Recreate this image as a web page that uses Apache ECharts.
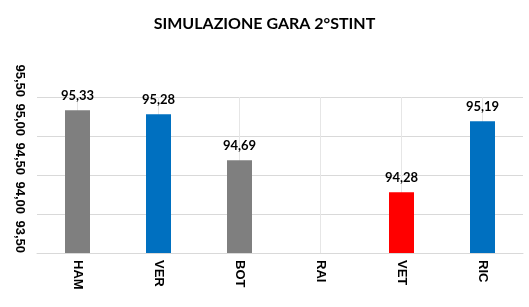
<!DOCTYPE html>
<html>
<head>
<meta charset="utf-8">
<script src="https://cdn.jsdelivr.net/npm/echarts@6/dist/echarts.min.js"></script>
<style>html,body{margin:0;padding:0;background:#fff;}#c{width:529px;height:307px;}</style>
</head>
<body>
<div id="c"></div>
<script>
const titleText = 'SIMULAZIONE GARA 2°STINT';
const drivers = ['HAM', 'VER', 'BOT', 'RAI', 'VET', 'RIC'];
const lapTimes = [95.33, 95.28, 94.69, null, 94.28, 95.19];
const barColors = ['#7f7f7f', '#0070c0', '#7f7f7f', '#7f7f7f', '#ff0000', '#0070c0'];
const yMin = 93.5, yMax = 95.5, yStep = 0.5;

const fmt = v => v.toFixed(2).replace('.', ',');

const chart = echarts.init(document.getElementById('c'));
chart.setOption({
  animation: false,
  title: {
    text: titleText, left: 'center', top: 11,
    textStyle: { fontFamily: 'Lato', fontWeight: 'bold', fontSize: 16, color: '#000' }
  },
  grid: { left: 37, right: 6, top: 97, bottom: 54, containLabel: false },
  xAxis: {
    type: 'category', data: drivers,
    axisLine: { show: true, lineStyle: { color: '#d9d9d9', width: 1 } },
    axisTick: { show: false },
    splitLine: { show: false },
    axisLabel: {
      rotate: -90, align: 'left', verticalAlign: 'middle', margin: 7,
      fontFamily: 'Liberation Sans', fontWeight: 'bold', fontSize: 13, color: '#000'
    }
  },
  yAxis: {
    type: 'value', min: yMin, max: yMax, interval: yStep,
    axisLine: { show: false }, axisTick: { show: false },
    splitLine: { lineStyle: { color: '#d9d9d9', width: 1 } },
    axisLabel: {
      rotate: -90, align: 'right', verticalAlign: 'middle', margin: 17,
      formatter: fmt,
      fontFamily: 'Liberation Sans', fontWeight: 'bold', fontSize: 13, color: '#000'
    }
  },
  series: [{
    type: 'bar', barWidth: 25, z: 3,
    data: lapTimes.map((v, i) => ({ value: v, itemStyle: { color: barColors[i] } })),
    label: {
      show: true, position: 'top', distance: 8,
      formatter: p => p.value == null ? '' : fmt(p.value),
      fontFamily: 'Lato', fontWeight: 'bold', fontSize: 13, color: '#000'
    },
    markLine: {
      z: 1, silent: true, symbol: ['none', 'none'],
      label: { show: false },
      lineStyle: { color: '#e6e6e6', width: 1, type: 'solid' },
      emphasis: { disabled: true },
      data: drivers.map(d => ({ xAxis: d }))
    }
  }]
});
</script>
</body>
</html>
